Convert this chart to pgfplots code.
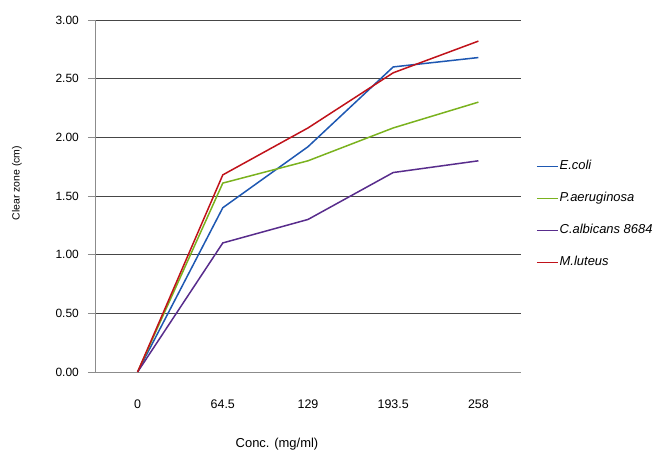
\documentclass[border=0pt]{standalone}
\usepackage{pgfplots}
\pgfplotsset{compat=1.18}
\usepackage{fontspec}
\setmainfont{Liberation Sans}

\definecolor{ecoli}{RGB}{30,88,178}
\definecolor{paeru}{RGB}{122,178,30}
\definecolor{calb}{RGB}{88,44,140}
\definecolor{mlut}{RGB}{192,18,26}
\definecolor{gridc}{RGB}{70,70,70}
\definecolor{axisc}{RGB}{140,140,140}

\begin{document}
\begin{tikzpicture}
\useasboundingbox (0,0) rectangle (657bp,453bp);
\begin{axis}[
  at={(95bp,81bp)}, anchor=south west,
  scale only axis, width=426bp, height=352bp,
  xmin=-0.5, xmax=4.5, ymin=0, ymax=3,
  axis x line*=bottom, axis y line*=left,
  axis line style={draw=axisc, line width=0.8bp},
  xtick={0,1,2,3,4},
  xticklabels={0,64.5,129,193.5,258},
  minor xtick={-0.5,0.5,1.5,2.5,3.5,4.5},
  ytick={0,0.5,1,1.5,2,2.5,3},
  tick align=outside,
  major tick length=7bp, minor tick length=6bp,
  xtick style={draw=none},
  minor tick style={draw=axisc, line width=0.8bp},
  ytick style={draw=axisc, line width=0.8bp},
  ymajorgrids, grid style={draw=gridc, line width=0.7bp},
  yticklabel style={/pgf/number format/.cd, fixed, fixed zerofill, precision=2, /tikz/.cd,
    anchor=east, inner sep=0pt, xshift=-9bp, font=\fontsize{12}{14}\selectfont},
  xticklabel style={anchor=base, inner sep=0pt, yshift=-29.5bp, font=\fontsize{12.5}{14}\selectfont},
  /pgf/number format/assume math mode=true,
  clip=false,
  legend style={at={(axis description cs:1.0352,0.447)}, anchor=west,
    draw=none, fill=none, inner sep=0pt, row sep=20bp,
    font=\fontsize{13}{15}\selectfont\itshape,
    nodes={text height=9bp, text depth=3bp, inner ysep=0pt, inner xsep=1bp},
    /tikz/every even column/.append style={column sep=0pt}},
  legend cell align=left,
  legend image code/.code={\draw[#1, line width=1.5bp] (0bp,0bp) -- (21bp,0bp);},
]
\addplot[color=ecoli, line width=1.5bp, mark=none] coordinates {(0,0) (1,1.40) (2,1.92) (3,2.60) (4,2.68)};
\addlegendentry{E.coli}
\addplot[color=paeru, line width=1.5bp, mark=none] coordinates {(0,0) (1,1.61) (2,1.80) (3,2.08) (4,2.30)};
\addlegendentry{P.aeruginosa}
\addplot[color=calb, line width=1.5bp, mark=none] coordinates {(0,0) (1,1.10) (2,1.30) (3,1.70) (4,1.80)};
\addlegendentry{C.albicans 8684}
\addplot[color=mlut, line width=1.5bp, mark=none] coordinates {(0,0) (1,1.68) (2,2.08) (3,2.55) (4,2.82)};
\addlegendentry{M.luteus}
\end{axis}
\node[rotate=90, font=\fontsize{10.5}{12}\selectfont] at (17bp,270bp) {Clear zone (cm)};
\node[font=\fontsize{13}{15}\selectfont] at (277bp,9bp) {Conc. (mg/ml)};
\end{tikzpicture}
\end{document}
